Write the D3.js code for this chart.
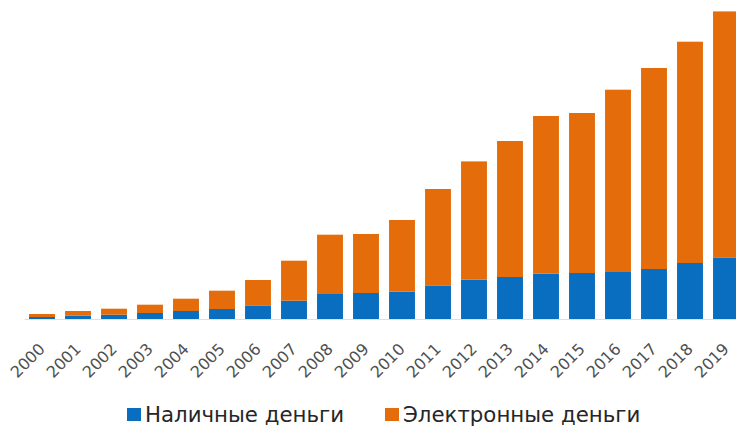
<!DOCTYPE html>
<html>
<head>
<meta charset="utf-8">
<script src="https://cdn.jsdelivr.net/npm/d3@7"></script>
<style>
  body { margin: 0; background: #fff; }
  svg { display: block; }
</style>
</head>
<body>
<div id="chart"></div>
<script>
// years and values (arbitrary units)
const years = ["2000","2001","2002","2003","2004","2005","2006","2007","2008","2009",
               "2010","2011","2012","2013","2014","2015","2016","2017","2018","2019"];
const cash = [2, 3.3, 4.3, 6, 8, 10, 13.6, 18.3, 25, 26,
              27.3, 33.6, 39.3, 42, 45.3, 46, 47, 50, 56, 61.6];
const electronic = [3, 4.7, 6, 8.3, 12.3, 18.3, 25.4, 40, 59.3, 59,
                    71.7, 96.4, 118.3, 136, 157.7, 160, 182.3, 201, 221.3, 246];
const seriesNames = ["Наличные деньги", "Электронные деньги"];
const colors = ["#0a6ec0", "#e46c0a"];

const width = 736, height = 427;
const baseY = 319;
const font = "'DejaVu Sans', sans-serif";

const svg = d3.select("#chart")
    .append("svg")
    .attr("width", width)
    .attr("height", height);

const rows = years.map((y, i) => ({ year: y, cash: cash[i], electronic: electronic[i] }));
const stack = d3.stack().keys(["cash", "electronic"])(rows);

const x = d3.scaleBand()
    .domain(years)
    .range([24, 744])
    .paddingInner(0.28)
    .paddingOuter(0.14);

const y = d3.scaleLinear()
    .domain([0, 310])
    .range([baseY, 9]);

// столбики
svg.selectAll(".layer")
    .data(stack)
    .enter()
    .append("g")
    .attr("class", "layer")
    .attr("fill", (d, i) => colors[i])
    .selectAll("rect")
    .data(d => d)
    .enter()
    .append("rect")
    .attr("x", d => x(d.data.year))
    .attr("y", d => y(d[1]))
    .attr("width", x.bandwidth())
    .attr("height", d => y(d[0]) - y(d[1]));

// ось X
const xAxis = svg.append("g")
    .attr("transform", `translate(0,${baseY})`)
    .call(d3.axisBottom(x).tickSize(0).tickPadding(0));

xAxis.select(".domain").attr("stroke", "#e0e0e0");

xAxis.selectAll("text")
    .attr("fill", "#505050")
    .style("font-family", font)
    .style("font-size", "16px")
    .attr("text-anchor", "end")
    .attr("dy", null)
    .attr("y", 0)
    .attr("transform", "translate(4,31) rotate(-45)");

// легенда
const legendItems = [{ x: 127 }, { x: 385 }];
const legend = svg.selectAll(".legend")
    .data(seriesNames)
    .enter()
    .append("g")
    .attr("class", "legend")
    .attr("transform", (d, i) => `translate(${legendItems[i].x},408)`);

legend.append("rect")
    .attr("width", 14)
    .attr("height", 13)
    .attr("fill", (d, i) => colors[i]);

legend.append("text")
    .attr("x", 18)
    .attr("y", 14)
    .attr("fill", "#262626")
    .style("font-family", font)
    .style("font-size", "21.3px")
    .text(d => d);
</script>
</body>
</html>
